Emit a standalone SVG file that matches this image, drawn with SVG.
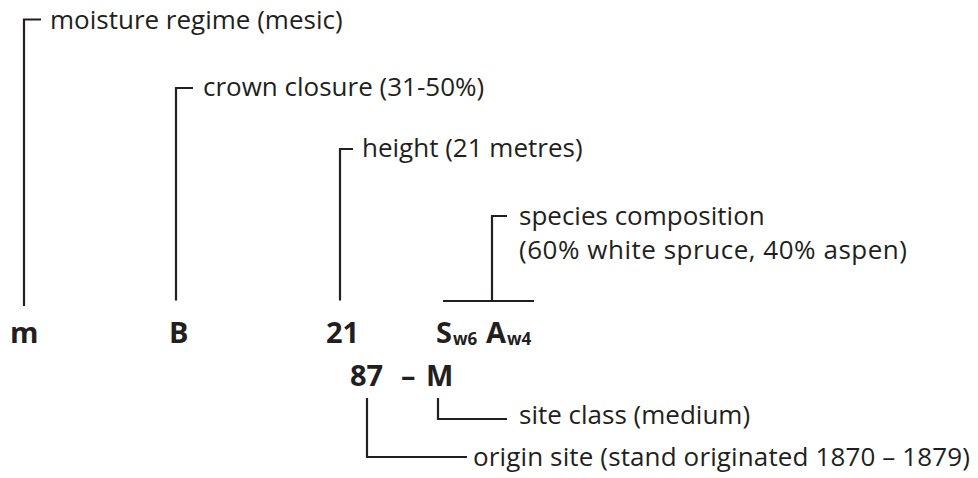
<svg xmlns="http://www.w3.org/2000/svg" width="978" height="478" viewBox="0 0 978 478">
  <style>
    .lbl { font-family: "Open Sans", "Noto Sans", sans-serif; font-size: 26px; fill: #231f20; }
    .code { font-family: "Open Sans", "Noto Sans", sans-serif; font-size: 29px; font-weight: bold; fill: #231f20; }
    .sub { font-size: 17px; }
    .ln { fill: none; stroke: #231f20; stroke-width: 2.2; }
  </style>
  <rect width="978" height="478" fill="#ffffff"/>
  <g id="connectors">
    <path class="ln" d="M41,19.5 H24 V306"/>
    <path class="ln" d="M193,88 H176 V300.5"/>
    <path class="ln" d="M353,149 H340 V300.5"/>
    <path class="ln" d="M507,216 H492 V301"/>
    <path class="ln" d="M443,301 H534"/>
    <path class="ln" d="M438,398 V419 H507"/>
    <path class="ln" d="M367,398 V457 H467"/>
  </g>
  <g id="moisture">
    <text class="lbl" x="50" y="28.5">moisture regime (mesic)</text>
  </g>
  <g id="crown">
    <text class="lbl" x="203" y="96">crown closure (31-50%)</text>
  </g>
  <g id="height">
    <text class="lbl" x="362" y="157">height (21 metres)</text>
  </g>
  <g id="species">
    <text class="lbl" x="519" y="225">species composition</text>
    <text class="lbl" x="519" y="259" textLength="388" lengthAdjust="spacing">(60% white spruce, 40% aspen)</text>
  </g>
  <g id="code-m">
    <text class="code" x="10" y="343">m</text>
  </g>
  <g id="code-B">
    <text class="code" x="169" y="343">B</text>
  </g>
  <g id="code-21">
    <text class="code" x="326" y="343">21</text>
  </g>
  <g id="code-species">
    <text class="code" x="436" y="343">S<tspan class="sub" x="453" y="345">w6</tspan> <tspan x="486" y="343">A</tspan><tspan class="sub" x="507" y="345">w4</tspan></text>
  </g>
  <g id="code-origin-site">
    <text class="code" x="350" y="386">87<tspan x="401">–</tspan><tspan x="426">M</tspan></text>
  </g>
  <g id="site-class">
    <text class="lbl" x="519" y="424">site class (medium)</text>
  </g>
  <g id="origin">
    <text class="lbl" x="473" y="466" textLength="497" lengthAdjust="spacing">origin site (stand originated 1870 – 1879)</text>
  </g>
</svg>
